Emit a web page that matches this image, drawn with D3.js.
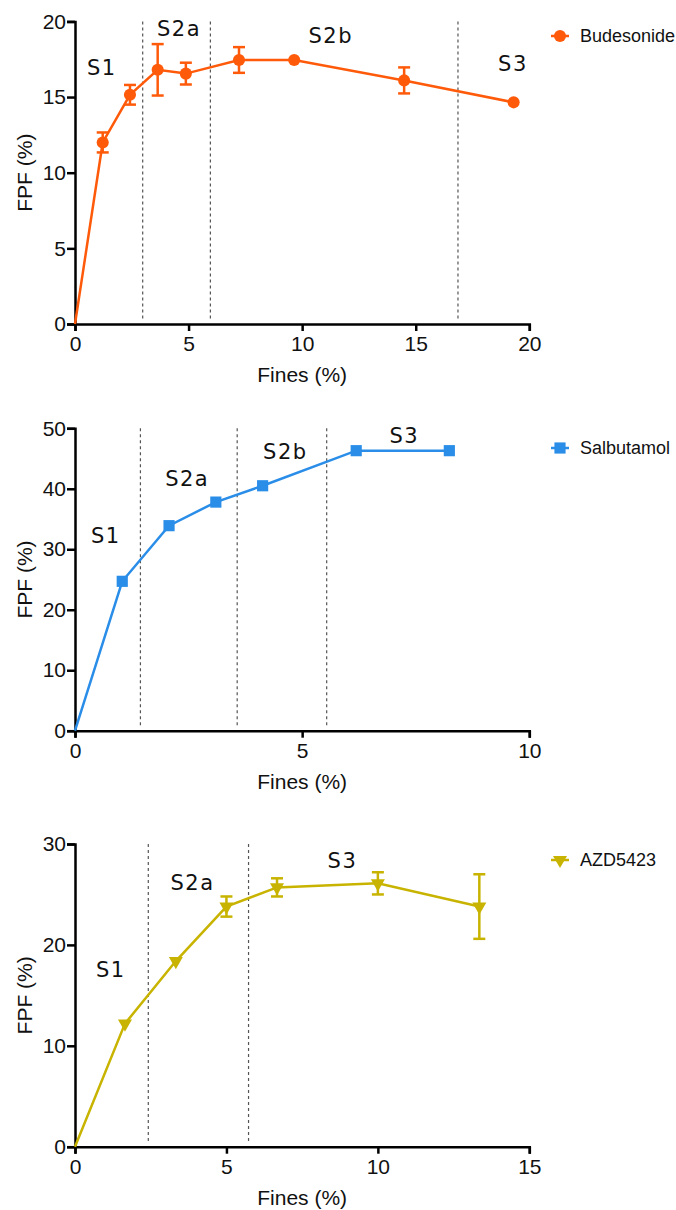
<!DOCTYPE html>
<html>
<head>
<meta charset="utf-8">
<script src="https://cdn.jsdelivr.net/npm/d3@7"></script>
<style>
  body { margin: 0; background: #fff; }
  svg text { font-family: "Liberation Sans", Arial, sans-serif; fill: #111; }
  .stage { font-family: "DejaVu Sans", Verdana, sans-serif; font-size: 21px; letter-spacing: 1.5px; }
</style>
</head>
<body>
<div id="chart"></div>
<script>
// Budesonide
const budFines = [0, 1.22, 2.42, 3.64, 4.88, 7.22, 9.65, 14.49, 19.31];
const budFpf = [0, 12.0, 15.15, 16.8, 16.55, 17.45, 17.45, 16.1, 14.65];
const budErr = [0, 0.66, 0.65, 1.7, 0.72, 0.85, 0, 0.86, 0];
const budBounds = [2.98, 5.96, 16.86];
const budStages = ['S1', 'S2a', 'S2b', 'S3'];
const budStageX = [1.18, 4.58, 11.26, 19.28];
const budStageY = [16.46, 19.03, 18.6, 16.74];

// Salbutamol
const salFines = [0, 1.04, 2.07, 3.10, 4.13, 6.19, 8.24];
const salFpf = [0, 24.7, 33.9, 37.8, 40.5, 46.3, 46.3];
const salErr = [0, 0, 0, 0, 0, 0, 0];
const salBounds = [1.44, 3.57, 5.54];
const salStages = ['S1', 'S2a', 'S2b', 'S3'];
const salStageX = [0.68, 2.47, 4.63, 7.25];
const salStageY = [31.0, 40.5, 45.0, 47.6];

// AZD5423
const azdFines = [0, 1.65, 3.33, 5.0, 6.67, 10.0, 13.35];
const azdFpf = [0, 12.2, 18.4, 23.8, 25.7, 26.1, 23.8];
const azdErr = [0, 0, 0, 1.0, 0.9, 1.1, 3.2];
const azdBounds = [2.42, 5.73];
const azdStages = ['S1', 'S2a', 'S3'];
const azdStageX = [1.18, 3.88, 8.83];
const azdStageY = [16.85, 25.4, 27.6];

const xTitle = 'Fines (%)';
const yTitle = 'FPF (%)';

const panels = [
  { name: 'Budesonide', color: '#ff5a0a', symbol: d3.symbolCircle, symSize: 115,
    fines: budFines, fpf: budFpf, err: budErr, bounds: budBounds,
    stages: budStages, stageX: budStageX, stageY: budStageY,
    xMax: 20, xStep: 5, yMax: 20, yStep: 5, top: 21.4, bottom: 324, legendY: 36 },
  { name: 'Salbutamol', color: '#2a8de8', symbol: d3.symbolSquare, symSize: 125,
    fines: salFines, fpf: salFpf, err: salErr, bounds: salBounds,
    stages: salStages, stageX: salStageX, stageY: salStageY,
    xMax: 10, xStep: 5, yMax: 50, yStep: 10, top: 428.3, bottom: 730.7, legendY: 448 },
  { name: 'AZD5423', color: '#c8b400', symbol: d3.symbolTriangle, symSize: 85, flip: true,
    fines: azdFines, fpf: azdFpf, err: azdErr, bounds: azdBounds,
    stages: azdStages, stageX: azdStageX, stageY: azdStageY,
    xMax: 15, xStep: 5, yMax: 30, yStep: 10, top: 844, bottom: 1146.7, legendY: 860 }
];

const W = 676, H = 1210;
const left = 75, right = 529.3;

const svg = d3.select('#chart').append('svg')
  .attr('width', W).attr('height', H);

panels.forEach(p => {
  const x = d3.scaleLinear().domain([0, p.xMax]).range([left, right]);
  const y = d3.scaleLinear().domain([0, p.yMax]).range([p.bottom, p.top]);
  const g = svg.append('g');
  const pts = p.fines.map((f, i) => ({ x: f, y: p.fpf[i], e: p.err[i] }));

  // stage boundaries
  g.selectAll('.bound').data(p.bounds).enter().append('line')
    .attr('x1', d => x(d)).attr('x2', d => x(d))
    .attr('y1', p.top).attr('y2', p.bottom - 4)
    .attr('stroke', '#555').attr('stroke-width', 1.2)
    .attr('stroke-dasharray', '3,3');

  // stage labels
  g.selectAll('.stage').data(p.stages).enter().append('text')
    .attr('class', 'stage')
    .attr('x', (d, i) => x(p.stageX[i]))
    .attr('y', (d, i) => y(p.stageY[i]))
    .attr('text-anchor', 'middle')
    .text(d => d);

  // axes
  const xAxis = d3.axisBottom(x).tickValues(d3.range(0, p.xMax + 0.01, p.xStep))
    .tickSize(7).tickPadding(5).tickFormat(d3.format('d'));
  const yAxis = d3.axisLeft(y).tickValues(d3.range(0, p.yMax + 0.01, p.yStep))
    .tickSize(8).tickPadding(1).tickFormat(d3.format('d'));

  const gx = g.append('g').attr('transform', `translate(0,${p.bottom})`).call(xAxis);
  const gy = g.append('g').attr('transform', `translate(${left},0)`).call(yAxis);
  [gx, gy].forEach(a => {
    a.select('.domain').attr('stroke', '#000').attr('stroke-width', 2.5);
    a.selectAll('.tick line').attr('stroke', '#000').attr('stroke-width', 2.5);
    a.selectAll('.tick text').attr('font-size', 21).attr('fill', '#111');
  });

  // axis titles
  g.append('text')
    .attr('x', (left + right) / 2).attr('y', p.bottom + 58)
    .attr('text-anchor', 'middle').attr('font-size', 21)
    .text(xTitle);
  g.append('text')
    .attr('transform', `translate(32,${(p.top + p.bottom) / 2}) rotate(-90)`)
    .attr('text-anchor', 'middle').attr('font-size', 21)
    .text(yTitle);

  // line
  const line = d3.line().x(d => x(d.x)).y(d => y(d.y));
  g.append('path').datum(pts)
    .attr('fill', 'none').attr('stroke', p.color).attr('stroke-width', 2.5)
    .attr('d', line);

  // error bars
  const eb = g.selectAll('.err').data(pts.filter(d => d.e > 0)).enter().append('g');
  eb.append('line')
    .attr('x1', d => x(d.x)).attr('x2', d => x(d.x))
    .attr('y1', d => y(d.y - d.e)).attr('y2', d => y(d.y + d.e))
    .attr('stroke', p.color).attr('stroke-width', 2.5);
  [-1, 1].forEach(s => {
    eb.append('line')
      .attr('x1', d => x(d.x) - 6).attr('x2', d => x(d.x) + 6)
      .attr('y1', d => y(d.y + s * d.e)).attr('y2', d => y(d.y + s * d.e))
      .attr('stroke', p.color).attr('stroke-width', 2.5);
  });

  // markers
  const sym = d3.symbol().type(p.symbol).size(p.symSize);
  g.selectAll('.pt').data(pts.slice(1)).enter().append('path')
    .attr('d', sym)
    .attr('transform', d => `translate(${x(d.x)},${y(d.y)})${p.flip ? ' rotate(180)' : ''}`)
    .attr('fill', p.color);

  // legend
  const lg = g.append('g').attr('transform', `translate(560,${p.legendY})`);
  lg.append('line').attr('x1', -9).attr('x2', 9)
    .attr('stroke', p.color).attr('stroke-width', 2.5);
  lg.append('path').attr('d', sym)
    .attr('transform', p.flip ? 'rotate(180)' : null)
    .attr('fill', p.color);
  lg.append('text').attr('x', 20).attr('dy', '0.35em')
    .attr('font-size', 18).text(p.name);
});
</script>
</body>
</html>
